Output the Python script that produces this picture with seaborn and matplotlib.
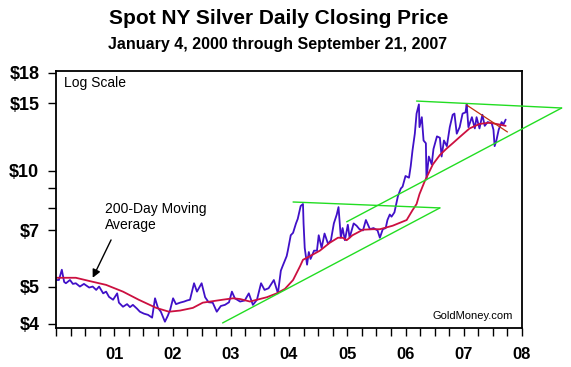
import numpy as np
import pandas as pd
import matplotlib
matplotlib.use("Agg")
import matplotlib.pyplot as plt
import seaborn as sns

# ---- data (decimal year, US$ per oz)
price_t = [2000.00, 2000.05, 2000.10, 2000.14, 2000.17, 2000.24, 2000.29, 2000.34, 2000.41, 2000.48,
           2000.57, 2000.63, 2000.69, 2000.74, 2000.81, 2000.86, 2000.91, 2000.98, 2001.05, 2001.08,
           2001.15, 2001.22, 2001.27, 2001.32, 2001.39, 2001.44, 2001.51, 2001.58, 2001.65, 2001.70,
           2001.75, 2001.80, 2001.87, 2001.92, 2001.96, 2002.01, 2002.06, 2002.13, 2002.20, 2002.25,
           2002.30, 2002.37, 2002.42, 2002.50, 2002.56, 2002.62, 2002.69, 2002.76, 2002.83, 2002.90,
           2002.97, 2003.02, 2003.07, 2003.16, 2003.24, 2003.31, 2003.38, 2003.45, 2003.52, 2003.58,
           2003.65, 2003.74, 2003.81, 2003.86, 2003.89, 2003.96, 2003.98, 2004.03, 2004.07, 2004.12,
           2004.15, 2004.20, 2004.24, 2004.25, 2004.27, 2004.31, 2004.34, 2004.37, 2004.43, 2004.48,
           2004.51, 2004.56, 2004.61, 2004.67, 2004.72, 2004.77, 2004.82, 2004.85, 2004.89, 2004.92,
           2004.96, 2005.01, 2005.04, 2005.11, 2005.16, 2005.21, 2005.27, 2005.32, 2005.39, 2005.45,
           2005.52, 2005.56, 2005.61, 2005.66, 2005.69, 2005.73, 2005.76, 2005.81, 2005.87, 2005.92,
           2005.95, 2006.00, 2006.06, 2006.09, 2006.12, 2006.16, 2006.19, 2006.23, 2006.24, 2006.28,
           2006.31, 2006.35, 2006.36, 2006.40, 2006.45, 2006.48, 2006.54, 2006.59, 2006.62, 2006.66,
           2006.71, 2006.76, 2006.81, 2006.84, 2006.88, 2006.93, 2006.98, 2007.03, 2007.05, 2007.08,
           2007.14, 2007.19, 2007.22, 2007.27, 2007.32, 2007.36, 2007.41, 2007.48, 2007.51, 2007.53,
           2007.56, 2007.60, 2007.65, 2007.68, 2007.72]
price = [5.20, 5.20, 5.53, 5.14, 5.10, 5.20, 5.08, 5.10, 5.00, 5.08,
         4.97, 5.00, 4.90, 5.00, 4.80, 4.85, 4.70, 4.62, 4.80, 4.54,
         4.43, 4.50, 4.42, 4.48, 4.38, 4.30, 4.25, 4.22, 4.15, 4.66,
         4.40, 4.30, 4.05, 4.20, 4.35, 4.66, 4.50, 4.54, 4.57, 4.60,
         4.62, 5.10, 4.85, 5.10, 4.69, 4.55, 4.54, 4.30, 4.45, 4.48,
         4.55, 4.85, 4.66, 4.57, 4.60, 4.80, 4.48, 4.62, 5.10, 4.90,
         4.95, 5.20, 4.80, 5.50, 5.65, 6.00, 6.20, 6.80, 6.90, 7.30,
         7.50, 8.10, 8.20, 7.30, 6.30, 5.70, 6.15, 5.90, 6.20, 6.20,
         6.80, 6.30, 6.87, 6.46, 6.60, 7.30, 7.70, 8.05, 6.70, 7.10,
         6.60, 7.24, 6.70, 7.30, 7.20, 7.05, 7.00, 7.45, 7.05, 7.10,
         7.00, 6.70, 7.05, 7.10, 7.45, 7.70, 7.60, 7.80, 8.60, 9.00,
         9.10, 9.70, 9.60, 10.30, 11.30, 12.50, 14.10, 14.90, 13.00, 13.80,
         12.00, 11.80, 9.50, 10.90, 10.40, 11.40, 12.30, 12.20, 10.90, 12.00,
         11.60, 13.00, 14.00, 14.10, 12.50, 13.00, 14.10, 14.20, 14.90, 13.00,
         13.80, 12.90, 13.80, 12.90, 14.00, 13.10, 13.40, 13.30, 12.80, 11.60,
         12.00, 12.80, 13.40, 13.20, 13.60]

ma_t = [2000.00, 2000.34, 2000.57, 2000.86, 2001.15, 2001.42, 2001.72, 2001.94, 2002.13, 2002.35,
        2002.52, 2002.69, 2002.86, 2003.04, 2003.16, 2003.33, 2003.45, 2003.62, 2003.79, 2003.93,
        2004.07, 2004.19, 2004.24, 2004.36, 2004.53, 2004.70, 2004.84, 2004.92, 2004.99, 2005.09,
        2005.27, 2005.44, 2005.56, 2005.78, 2006.02, 2006.12, 2006.19, 2006.24, 2006.33, 2006.47,
        2006.59, 2006.71, 2006.81, 2006.93, 2007.10, 2007.27, 2007.44, 2007.62, 2007.72]
ma = [5.27, 5.27, 5.17, 5.05, 4.85, 4.62, 4.40, 4.30, 4.33, 4.40,
      4.54, 4.58, 4.62, 4.66, 4.64, 4.57, 4.62, 4.69, 4.80, 4.93,
      5.20, 5.65, 5.87, 6.00, 6.20, 6.50, 6.70, 6.70, 6.60, 6.80,
      7.03, 7.05, 7.05, 7.20, 7.45, 7.90, 8.20, 8.70, 9.40, 10.40,
      11.00, 11.45, 11.80, 12.25, 12.90, 13.25, 13.35, 13.20, 13.10]

# trend lines: (start year, start price, end year, end price)
green_lines = [
    (2002.86, 4.02, 2006.59, 8.01),
    (2004.07, 8.30, 2006.59, 8.01),
    (2004.99, 7.37, 2008.68, 14.58),
    (2006.19, 15.20, 2008.68, 14.58),
]
red_line = (2007.05, 14.84, 2007.75, 12.63)

year_labels = ["01", "02", "03", "04", "05", "06", "07", "08"]
y_ticks = [4, 5, 7, 10, 15, 18]
y_minor = [8, 9]

df_price = pd.DataFrame({"t": price_t, "p": price})
df_ma = pd.DataFrame({"t": ma_t, "p": ma})

sns.set_style("white")
plt.rcParams["font.family"] = ["Liberation Sans", "DejaVu Sans"]
plt.rcParams["text.color"] = "black"
plt.rcParams["xtick.color"] = "black"
plt.rcParams["ytick.color"] = "black"

fig = plt.figure(figsize=(5.71, 3.67), dpi=100)
ax = fig.add_axes([56 / 571, 1 - 328 / 367, 466 / 571, 257 / 367])
ax.set_yscale("log")

sns.lineplot(data=df_price, x="t", y="p", ax=ax, color="#4010C8", lw=1.3, sort=False)
sns.lineplot(data=df_ma, x="t", y="p", ax=ax, color="#CC1040", lw=1.3, sort=False)
for x0, y0, x1, y1 in green_lines:
    ax.plot([x0, x1], [y0, y1], color="#22DD22", lw=1.0, clip_on=False, zorder=3)
ax.plot([red_line[0], red_line[2]], [red_line[1], red_line[3]], color="#C03010", lw=0.9, zorder=3)

ax.set_xlim(2000, 2008)
ax.set_ylim(3.9, 18.2)
ax.set_xlabel("")
ax.set_ylabel("")

# quarter ticks, labels only at year marks
qt = np.arange(2000, 2008.01, 0.25)
ax.set_xticks(qt)
ax.set_xticklabels([year_labels[int(q) - 2001] if (q == int(q) and q > 2000) else "" for q in qt],
                   fontsize=12, fontweight="bold", family=["Liberation Sans Narrow", "Liberation Sans"])
ax.set_yticks(y_ticks)
ax.set_yticklabels(["$%d" % v for v in y_ticks], fontsize=13, fontweight="bold")
ax.set_yticks(y_minor, minor=True)
ax.yaxis.set_minor_formatter(plt.NullFormatter())
ax.tick_params(axis="both", which="both", direction="out", length=6, width=1, color="black",
               labelcolor="black", bottom=True, left=True, top=False, right=False)
ax.tick_params(axis="x", pad=8)
ax.tick_params(axis="y", pad=6)
for s in ax.spines.values():
    s.set_color("black")
    s.set_linewidth(1.3)

ax.text(0.017, 0.98, "Log Scale", transform=ax.transAxes, fontsize=10, va="top", ha="left")
ax.text(0.809, 0.047, "GoldMoney.com", transform=ax.transAxes, fontsize=8, va="center", ha="left")
ax.annotate("200-Day Moving\nAverage", xy=(2000.63, 5.27), xytext=(2000.84, 8.3),
            fontsize=10, va="top", ha="left", linespacing=1.15,
            arrowprops=dict(arrowstyle="-|>", color="black", lw=1, shrinkA=4, shrinkB=0,
                            mutation_scale=12, relpos=(0.1, 0.0)))

fig.text(279 / 571, 1 - 18 / 367, "Spot NY Silver Daily Closing Price", ha="center", va="center",
         fontsize=15, fontweight="bold", color="black")
fig.text(278 / 571, 1 - 45 / 367, "January 4, 2000 through September 21, 2007", ha="center",
         va="center", fontsize=11.5, fontweight="bold", color="black")

fig.savefig("out.png", dpi=100)
